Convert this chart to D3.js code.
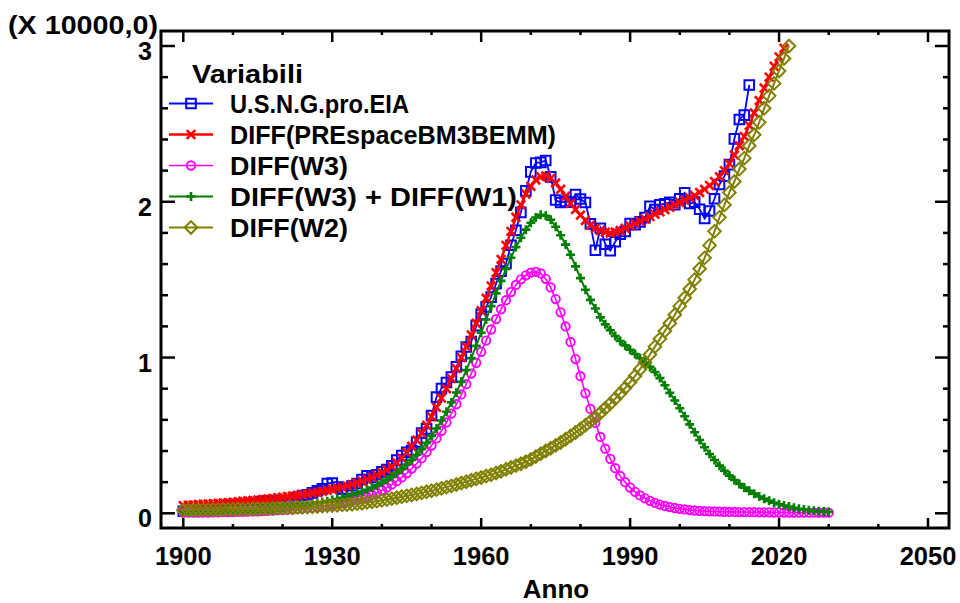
<!DOCTYPE html>
<html>
<head>
<meta charset="utf-8">
<script src="https://cdn.jsdelivr.net/npm/d3@7"></script>
<style>
  body { margin: 0; background: #fff; }
  svg text { font-family: "Liberation Sans", Arial, sans-serif; font-weight: bold; fill: #000; }
</style>
</head>
<body>
<svg id="chart" width="960" height="603"></svg>
<script>
// Data (values in units of 10000), one value per year starting at the given year
const usngStart = 1900;
const usngValues = [
  0.0128, 0.0150, 0.0162, 0.0194, 0.0212, 0.0251, 0.0301, 0.0354, 0.0400, 0.0481,
  0.0509, 0.0513, 0.0562, 0.0582, 0.0592, 0.0629, 0.0753, 0.0795, 0.0721, 0.0746,
  0.0812, 0.0662, 0.0763, 0.1007, 0.1142, 0.1188, 0.1313, 0.1445, 0.1568, 0.1917,
  0.1943, 0.1686, 0.1555, 0.1556, 0.1771, 0.1917, 0.2168, 0.2407, 0.2296, 0.2477,
  0.2660, 0.2812, 0.3053, 0.3415, 0.3711, 0.3919, 0.4031, 0.4582, 0.5148, 0.5420,
  0.6282, 0.7457, 0.8013, 0.8397, 0.8743, 0.9405, 1.0082, 1.0680, 1.1030, 1.2046,
  1.2771, 1.3254, 1.3877, 1.4747, 1.5547, 1.6040, 1.7207, 1.8171, 1.9322, 2.0698,
  2.1921, 2.2493, 2.2532, 2.2648, 2.1601, 2.0109, 1.9952, 2.0025, 1.9974, 2.0471,
  2.0180, 1.9956, 1.8582, 1.6884, 1.8304, 1.7270, 1.6859, 1.7433, 1.7918, 1.8095,
  1.8594, 1.8532, 1.8712, 1.8982, 1.9710, 1.9506, 1.9812, 1.9866, 1.9961, 1.9805,
  2.0198, 2.0570, 1.9885, 1.9974, 1.9517, 1.8927, 1.9410, 2.0196, 2.1112, 2.1648,
  2.2382, 2.4036, 2.5283, 2.5562, 2.7498
];

const preStart = 1900;
const preValues = [
  0.050, 0.052, 0.054, 0.056, 0.058, 0.060, 0.062, 0.064, 0.066, 0.068,
  0.071, 0.074, 0.077, 0.080, 0.083, 0.086, 0.089, 0.092, 0.096, 0.100,
  0.104, 0.108, 0.112, 0.116, 0.120, 0.125, 0.130, 0.135, 0.141, 0.147,
  0.154, 0.161, 0.168, 0.176, 0.185, 0.195, 0.206, 0.218, 0.231, 0.246,
  0.262, 0.280, 0.300, 0.324, 0.355, 0.390, 0.430, 0.470, 0.515, 0.565,
  0.620, 0.680, 0.740, 0.800, 0.865, 0.930, 1.000, 1.070, 1.145, 1.220,
  1.300, 1.380, 1.460, 1.545, 1.630, 1.720, 1.810, 1.900, 1.980, 2.050,
  2.100, 2.140, 2.160, 2.165, 2.150, 2.120, 2.080, 2.035, 1.990, 1.950,
  1.915, 1.880, 1.850, 1.830, 1.815, 1.805, 1.800, 1.805, 1.815, 1.830,
  1.845, 1.860, 1.875, 1.890, 1.905, 1.920, 1.935, 1.950, 1.965, 1.980,
  1.995, 2.010, 2.025, 2.040, 2.060, 2.080, 2.105, 2.130, 2.160, 2.200,
  2.245, 2.300, 2.360, 2.420, 2.490, 2.570, 2.650, 2.730, 2.800, 2.870,
  2.930, 2.985
];

const w3Start = 1900;
const w3Values = [
  0.004, 0.004, 0.004, 0.005, 0.005, 0.005, 0.006, 0.006, 0.007, 0.007,
  0.008, 0.009, 0.010, 0.011, 0.012, 0.013, 0.014, 0.016, 0.018, 0.020,
  0.022, 0.024, 0.026, 0.029, 0.032, 0.035, 0.038, 0.042, 0.046, 0.050,
  0.055, 0.060, 0.066, 0.073, 0.080, 0.088, 0.097, 0.105, 0.118, 0.132,
  0.148, 0.165, 0.185, 0.206, 0.230, 0.257, 0.287, 0.319, 0.354, 0.393,
  0.435, 0.481, 0.530, 0.583, 0.640, 0.700, 0.763, 0.829, 0.897, 0.966,
  1.037, 1.109, 1.180, 1.247, 1.310, 1.368, 1.420, 1.466, 1.502, 1.528,
  1.545, 1.550, 1.540, 1.505, 1.450, 1.375, 1.290, 1.200, 1.100, 0.990,
  0.880, 0.770, 0.670, 0.580, 0.490, 0.415, 0.350, 0.290, 0.240, 0.200,
  0.165, 0.138, 0.115, 0.096, 0.080, 0.067, 0.056, 0.047, 0.040, 0.034,
  0.029, 0.025, 0.021, 0.018, 0.016, 0.014, 0.013, 0.012, 0.011, 0.010,
  0.009, 0.009, 0.008, 0.008, 0.007, 0.007, 0.006, 0.006, 0.006, 0.005,
  0.005, 0.005, 0.005, 0.004, 0.004, 0.004, 0.004, 0.004, 0.004, 0.004,
  0.004
];

const w31Start = 1900;
const w31Values = [
  0.010, 0.010, 0.011, 0.011, 0.012, 0.012, 0.013, 0.014, 0.015, 0.016,
  0.017, 0.018, 0.019, 0.021, 0.023, 0.025, 0.027, 0.029, 0.032, 0.035,
  0.038, 0.041, 0.044, 0.048, 0.052, 0.056, 0.061, 0.066, 0.072, 0.078,
  0.085, 0.092, 0.100, 0.109, 0.118, 0.128, 0.139, 0.151, 0.165, 0.180,
  0.197, 0.216, 0.237, 0.260, 0.285, 0.313, 0.343, 0.376, 0.412, 0.452,
  0.496, 0.544, 0.596, 0.652, 0.712, 0.776, 0.844, 0.919, 0.996, 1.076,
  1.159, 1.244, 1.330, 1.412, 1.492, 1.569, 1.641, 1.709, 1.769, 1.821,
  1.865, 1.899, 1.917, 1.910, 1.885, 1.840, 1.785, 1.725, 1.660, 1.585,
  1.510, 1.435, 1.370, 1.315, 1.258, 1.213, 1.175, 1.138, 1.106, 1.078,
  1.050, 1.023, 0.995, 0.968, 0.940, 0.907, 0.868, 0.822, 0.773, 0.724,
  0.674, 0.623, 0.571, 0.520, 0.471, 0.424, 0.381, 0.342, 0.306, 0.273,
  0.242, 0.214, 0.188, 0.165, 0.144, 0.126, 0.108, 0.093, 0.080, 0.068,
  0.058, 0.050, 0.043, 0.035, 0.029, 0.024, 0.020, 0.016, 0.013, 0.011,
  0.009
];

const w2Start = 1900;
const w2Values = [
  0.020, 0.020, 0.021, 0.021, 0.022, 0.022, 0.023, 0.023, 0.024, 0.024,
  0.025, 0.026, 0.026, 0.027, 0.028, 0.029, 0.030, 0.031, 0.032, 0.033,
  0.034, 0.035, 0.036, 0.038, 0.039, 0.041, 0.042, 0.044, 0.046, 0.048,
  0.050, 0.052, 0.054, 0.056, 0.058, 0.062, 0.065, 0.070, 0.074, 0.078,
  0.083, 0.088, 0.094, 0.100, 0.106, 0.112, 0.118, 0.124, 0.131, 0.138,
  0.145, 0.152, 0.160, 0.168, 0.176, 0.185, 0.194, 0.203, 0.212, 0.221,
  0.230, 0.239, 0.248, 0.259, 0.270, 0.282, 0.294, 0.306, 0.318, 0.331,
  0.346, 0.364, 0.383, 0.400, 0.418, 0.436, 0.455, 0.475, 0.497, 0.519,
  0.541, 0.565, 0.590, 0.615, 0.644, 0.674, 0.704, 0.736, 0.770, 0.805,
  0.842, 0.882, 0.925, 0.970, 1.020, 1.070, 1.120, 1.170, 1.220, 1.275,
  1.330, 1.384, 1.440, 1.500, 1.570, 1.640, 1.720, 1.810, 1.900, 1.980,
  2.060, 2.130, 2.210, 2.280, 2.360, 2.430, 2.510, 2.600, 2.680, 2.760,
  2.840, 2.920, 3.000
];

const legendTitle = "Variabili";
const seriesNames = ["U.S.N.G.pro.EIA", "DIFF(PREspaceBM3BEMM)", "DIFF(W3)", "DIFF(W3) + DIFF(W1)", "DIFF(W2)"];
const xTickValues = [1900, 1930, 1960, 1990, 2020, 2050];
const yTickValues = [0, 1, 2, 3];
const xLabel = "Anno";
const yUnitLabel = "(X 10000,0)";

// ---- layout
const frame = { left: 161, right: 949, top: 31, bottom: 528 };
const x = d3.scaleLinear().domain([1900, 2050]).range([183.3, 928]);
const y = d3.scaleLinear().domain([0, 3]).range([513.3, 46]);

const svg = d3.select("#chart");

const series = [
  { name: seriesNames[0], start: usngStart, values: usngValues, color: "#0000ff", marker: "square", lw: 1.8, tw: 179 },
  { name: seriesNames[1], start: preStart, values: preValues, color: "#ff0000", marker: "cross", lw: 2.5, tw: 326 },
  { name: seriesNames[2], start: w3Start, values: w3Values, color: "#ff00ff", marker: "circle", lw: 1.6, tw: 118 },
  { name: seriesNames[3], start: w31Start, values: w31Values, color: "#007f00", marker: "plus", lw: 2, tw: 287 },
  { name: seriesNames[4], start: w2Start, values: w2Values, color: "#808000", marker: "diamond", lw: 2, tw: 118 }
];

const markerPath = {
  square: "M-4.8,-4.8H4.8V4.8H-4.8Z",
  cross: "M-4.3,-4.3L4.3,4.3M-4.3,4.3L4.3,-4.3",
  plus: "M-4.5,0H4.5M0,-4.5V4.5",
  diamond: "M0,-6.3L6.3,0L0,6.3L-6.3,0Z"
};

function drawMarker(g, type, color) {
  if (type === "circle") {
    g.append("circle").attr("r", 4.2)
      .attr("fill", "none").attr("stroke", color).attr("stroke-width", 1.9);
  } else {
    g.append("path").attr("d", markerPath[type])
      .attr("fill", "none").attr("stroke", color)
      .attr("stroke-width", type === "diamond" ? 2 : type === "square" ? 2 : 2.6);
  }
}

// ---- series
const plot = svg.append("g");
series.forEach(s => {
  const pts = s.values.map((v, i) => [s.start + i, v]);
  const line = d3.line().x(d => x(d[0])).y(d => y(d[1]));
  const g = plot.append("g");
  g.append("path").datum(pts).attr("d", line)
    .attr("fill", "none").attr("stroke", s.color).attr("stroke-width", s.lw);
  pts.forEach(p => {
    const mg = g.append("g").attr("transform", `translate(${x(p[0])},${y(p[1])})`);
    drawMarker(mg, s.marker, s.color);
  });
});

// ---- frame and ticks
const axes = svg.append("g").attr("stroke", "#000");
axes.append("rect")
  .attr("x", frame.left).attr("y", frame.top)
  .attr("width", frame.right - frame.left).attr("height", frame.bottom - frame.top)
  .attr("fill", "none").attr("stroke-width", 3);

d3.range(1900, 2051, 10).forEach(v => {
  const major = xTickValues.includes(v);
  const xx = x(v);
  axes.append("line").attr("x1", xx).attr("x2", xx)
    .attr("y1", frame.bottom).attr("y2", frame.bottom - (major ? 10 : 4)).attr("stroke-width", 2.5);
  axes.append("line").attr("x1", xx).attr("x2", xx)
    .attr("y1", frame.top).attr("y2", frame.top + (major ? 11 : 4)).attr("stroke-width", 2.5);
});

d3.range(0, 16).forEach(k => {
  const v = k * 0.2;
  const major = k % 5 === 0;
  const yy = y(v);
  axes.append("line").attr("y1", yy).attr("y2", yy)
    .attr("x1", frame.left).attr("x2", frame.left + (major ? 14 : 7)).attr("stroke-width", 2.5);
  axes.append("line").attr("y1", yy).attr("y2", yy)
    .attr("x1", frame.right).attr("x2", frame.right - (major ? 14 : 6)).attr("stroke-width", 2.5);
});

// tick labels
svg.append("g").selectAll("text").data(xTickValues).join("text")
  .attr("x", d => x(d)).attr("y", 565)
  .attr("text-anchor", "middle").attr("font-size", 25.5)
  .text(d => d);

svg.append("g").selectAll("text").data(yTickValues).join("text")
  .attr("x", 152).attr("y", d => y(d) + 14)
  .attr("text-anchor", "end").attr("font-size", 25)
  .text(d => d);

svg.append("text").attr("x", 556).attr("y", 598)
  .attr("text-anchor", "middle").attr("font-size", 26).text(xLabel);

svg.append("text").attr("x", 8).attr("y", 34)
  .attr("font-size", 26).attr("textLength", 150).attr("lengthAdjust", "spacingAndGlyphs")
  .text(yUnitLabel);

// ---- legend
const legend = svg.append("g");
legend.append("text").attr("x", 192).attr("y", 83).attr("font-size", 26)
  .attr("textLength", 111).attr("lengthAdjust", "spacingAndGlyphs").text(legendTitle);
series.forEach((s, i) => {
  const cy = 103.5 + i * 31;
  const row = legend.append("g");
  row.append("line").attr("x1", 169).attr("x2", 213).attr("y1", cy).attr("y2", cy)
    .attr("stroke", s.color).attr("stroke-width", s.lw);
  const mg = row.append("g").attr("transform", `translate(191,${cy})`);
  drawMarker(mg, s.marker, s.color);
  row.append("text").attr("x", 230).attr("y", cy + 9).attr("font-size", 25)
    .attr("textLength", s.tw).attr("lengthAdjust", "spacingAndGlyphs").text(s.name);
});
</script>
</body>
</html>
